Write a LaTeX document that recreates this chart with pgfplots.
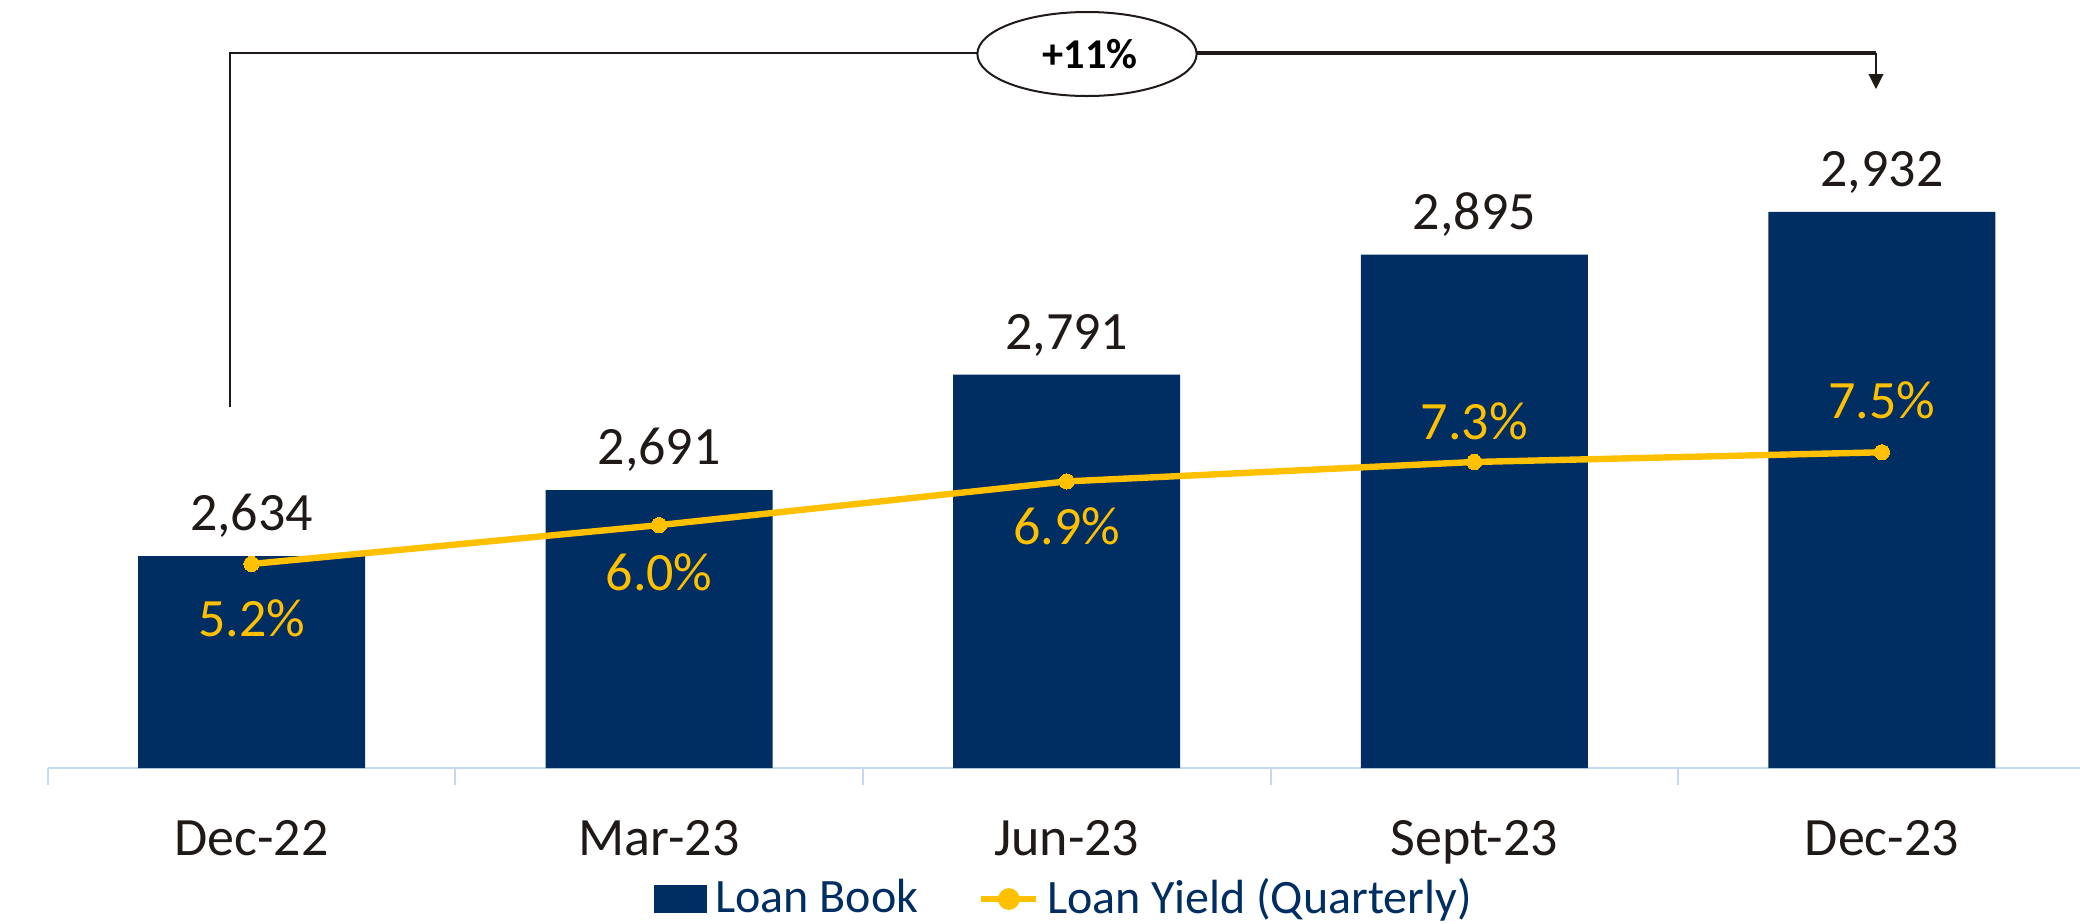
\documentclass[border=0pt]{standalone}
\usepackage{fontspec}
\setmainfont{Carlito}
\usepackage{pgfplots}
\pgfplotsset{compat=1.18}
\usepackage{pgfplotstable}
\definecolor{navy}{RGB}{0,45,98}
\definecolor{gold}{RGB}{255,192,0}
\definecolor{ink}{RGB}{31,26,23}
\definecolor{axisblue}{RGB}{197,217,241}
\pgfplotstableread{
x book yield off
0 2634 5.2 -18.2
1 2691 6.0 -16.3
2 2791 6.9 -15.8
3 2895 7.3 5.7
4 2932 7.5 8.5
}\data
\begin{document}
\begin{tikzpicture}
\path[use as bounding box] (0,0) rectangle (520pt,-230.75pt);
\begin{axis}[at={(11.925pt,-192pt)}, anchor=south west, scale only axis,
  width=509.5pt, height=192pt, xmin=-0.5, xmax=4.5, ymin=2450.5, ymax=3115.4,
  axis x line*=bottom, axis y line=none,
  x axis line style={draw=axisblue, line width=0.5pt, -},
  xtick={0,...,4}, xticklabels={Dec-22,Mar-23,Jun-23,Sept-23,Dec-23},
  major tick length=0pt,
  minor xtick={-0.5,0.5,1.5,2.5,3.5,4.5}, minor tick length=4.25pt, tick align=outside,
  minor tick style={draw=axisblue, line width=0.5pt},
  xticklabel style={font=\fontsize{13.5}{16}\selectfont, text=ink, anchor=base, yshift=-21.75pt}]
\addplot[ybar, bar width=56.75pt, bar shift=0pt, fill=navy, draw=none,
  nodes near coords={\pgfmathprintnumber[assume math mode=true,1000 sep={,}]{\pgfplotspointmeta}},
  every node near coord/.append style={font=\fontsize{13.5}{16}\selectfont, text=ink, anchor=base, yshift=6.35pt}]
  table[x=x,y=book]{\data};
\end{axis}
\begin{axis}[at={(11.925pt,-192pt)}, anchor=south west, scale only axis,
  width=509.5pt, height=192pt, xmin=-0.5, xmax=4.5, ymin=1.0, ymax=16.81,
  hide axis,
  legend columns=2,
  legend style={at={(0.5,-0.1706)}, anchor=center, draw=none, fill=none,
    font=\fontsize{12}{14}\selectfont, text=navy,
    /tikz/every even column/.append style={column sep=13pt}}]
\addlegendimage{legend image code/.code={\fill[navy] (0pt,-3.375pt) rectangle (13pt,3.375pt);}}
\addlegendentry{Loan Book}
\addplot[gold, line width=1.6pt, mark=*, mark size=1.9pt,
  mark options={fill=gold, draw=gold, line width=0pt},
  visualization depends on={\thisrow{off} \as \myoff},
  nodes near coords={\pgfmathprintnumber[fixed,fixed zerofill,precision=1,assume math mode=true]{\pgfplotspointmeta}\%},
  every node near coord/.append style={font=\fontsize{13.5}{16}\selectfont, text=gold, anchor=base, yshift=\myoff pt},
  legend image code/.code={\draw[gold, line width=1.5pt] (0pt,0pt) -- (13.75pt,0pt); \fill[gold] (6.875pt,0pt) circle (1.9pt);}]
  table[x=x,y=yield]{\data};
\addlegendentry{Loan Yield (Quarterly)}
\end{axis}
% growth annotation
\draw[ink, line width=0.4pt] (57.5pt,-101.75pt) -- (57.5pt,-13.25pt) -- (244.5pt,-13.25pt);
\draw[ink, line width=0.9pt] (299.25pt,-13.25pt) -- (469pt,-13.25pt);
\draw[ink, line width=0.6pt] (469pt,-13.25pt) -- (469pt,-18.5pt);
\fill[ink] (467.1pt,-18.5pt) -- (470.9pt,-18.5pt) -- (469pt,-22.25pt) -- cycle;
\draw[ink, line width=0.5pt, fill=white] (271.75pt,-13.5pt) ellipse (27.4pt and 10.5pt);
\node[font=\bfseries\fontsize{10.6}{12}\selectfont, text=black] at (272.5pt,-13.5pt) {+11\%};
\end{tikzpicture}
\end{document}
